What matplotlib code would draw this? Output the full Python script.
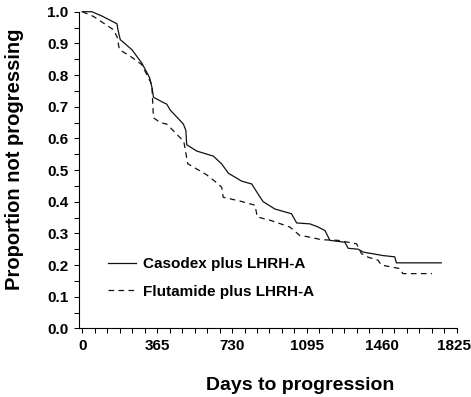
import matplotlib
matplotlib.use("Agg")
import matplotlib.pyplot as plt
import matplotlib.transforms as mtransforms
from matplotlib.ticker import MultipleLocator, FixedLocator

plt.rcParams['font.family'] = ['Liberation Sans', 'DejaVu Sans']
plt.rcParams['font.weight'] = 'bold'

# Kaplan-Meier curves (days, proportion not progressing)
casodex_days = [0, 47, 100, 169, 175, 185, 242, 290, 328, 340, 347, 390, 412, 428,
                493, 505, 509, 558, 639, 680, 712, 777, 826, 866, 882, 939, 1020,
                1045, 1110, 1150, 1183, 1207, 1280, 1296, 1345, 1369, 1466, 1523,
                1531, 1750]
casodex_prop = [1.0, 1.0, 0.985, 0.962, 0.94, 0.912, 0.88, 0.838, 0.792, 0.76, 0.73,
                0.715, 0.708, 0.69, 0.645, 0.625, 0.58, 0.56, 0.544, 0.519, 0.49,
                0.465, 0.456, 0.415, 0.40, 0.377, 0.362, 0.333, 0.33, 0.32, 0.309,
                0.278, 0.272, 0.253, 0.25, 0.241, 0.23, 0.226, 0.207, 0.207]

flut_days = [0, 55, 152, 170, 181, 233, 290, 339, 347, 380, 412, 485, 495, 514, 606,
             663, 680, 687, 769, 842, 853, 923, 1012, 1061, 1094, 1167, 1247, 1337,
             1361, 1393, 1442, 1458, 1547, 1563, 1705]
flut_prop = [1.0, 0.985, 0.943, 0.92, 0.88, 0.86, 0.833, 0.77, 0.665, 0.65, 0.645,
             0.597, 0.59, 0.52, 0.485, 0.456, 0.445, 0.414, 0.402, 0.389, 0.352, 0.34,
             0.32, 0.293, 0.29, 0.28, 0.278, 0.267, 0.236, 0.225, 0.215, 0.2, 0.189,
             0.173, 0.173]

labels = ['Casodex plus LHRH-A', 'Flutamide plus LHRH-A']
xticks = [0, 365, 730, 1095, 1460, 1825]

fig = plt.figure(figsize=(4.71, 3.97), dpi=100)
ax = fig.add_axes([0.1677, 0.1728, 0.8019, 0.7977])

ax.plot(casodex_days, casodex_prop, color='#111111', lw=0.9, label=labels[0], clip_on=False)
ax.plot(flut_days, flut_prop, color='#111111', lw=0.9, dashes=(4.5, 3.5), label=labels[1], clip_on=False)

ax.set_xlim(-16, 1825)
ax.set_ylim(0, 1.0)
ax.xaxis.set_major_locator(FixedLocator(xticks))
ax.xaxis.set_minor_locator(MultipleLocator(365 / 6))
ax.yaxis.set_major_locator(MultipleLocator(0.1))
ax.yaxis.set_minor_locator(MultipleLocator(0.05))
ax.set_yticklabels(['%.1f' % v for v in ax.get_yticks()])
ax.tick_params(which='both', direction='out', length=3.6, width=0.75, labelsize=11, pad=4)

# last x label sits right at the image edge, nudge it in a little
last = ax.get_xticklabels()[-1]
last.set_transform(last.get_transform() + mtransforms.ScaledTranslation(-2.5 / 100, 0, fig.dpi_scale_trans))

for s in ['top', 'right']:
    ax.spines[s].set_visible(False)
for s in ['left', 'bottom']:
    ax.spines[s].set_linewidth(0.8)

ax.legend(loc='upper left', bbox_to_anchor=(0.06, 0.245), frameon=False, fontsize=11,
          handlelength=1.85, handletextpad=0.45, labelspacing=0.9, borderaxespad=0)

fig.text(14.5 / 471, 1 - 159 / 397, 'Proportion not progressing', rotation=90,
         ha='center', va='center', fontsize=14.5, fontweight='bold')
fig.text(300 / 471, 1 - 385 / 397, 'Days to progression', ha='center', va='center',
         fontsize=14, fontweight='bold')

fig.savefig('out.png', dpi=100)
